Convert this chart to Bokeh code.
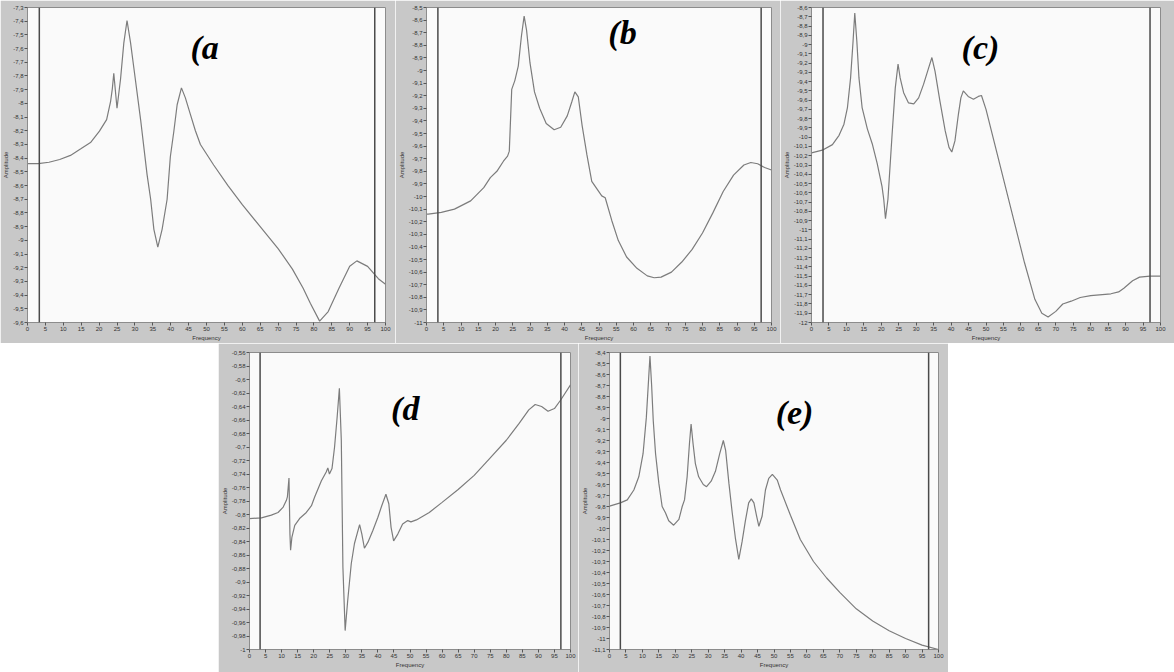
from bokeh.plotting import figure
from bokeh.layouts import column, row
from bokeh.models import FixedTicker, Span, Label, Spacer, Range1d
from bokeh.embed import file_html
from bokeh.resources import INLINE

# ---- shared frequency axis -------------------------------------------------
freq_ticks = list(range(0, 101, 5))
cursor_positions = [3.3, 97.0]

# ---- panel (a) --------------------------------------------------------------
a_freq = [0, 3, 6, 9, 12, 15, 17.6, 20.1, 22.1, 23.2, 23.7, 24.1, 25.0, 26.0,
          26.9, 27.8, 28.8, 29.7, 31.6, 33.4, 34.4, 35.3, 36.4, 37.6, 39.0,
          39.9, 40.9, 41.8, 43.0, 44.1, 45.5, 46.9, 48.3, 52, 56, 60, 65, 70,
          74, 77, 79, 81.6, 84, 87, 90, 92, 95, 98, 100]
a_amp = [-8.44, -8.44, -8.43, -8.41, -8.38, -8.33, -8.286, -8.203, -8.119,
         -7.988, -7.892, -7.780, -8.036, -7.82, -7.56, -7.395, -7.56, -7.74,
         -8.12, -8.52, -8.70, -8.92, -9.05, -8.92, -8.70, -8.39, -8.20, -8.01,
         -7.887, -7.96, -8.08, -8.20, -8.30, -8.45, -8.60, -8.74, -8.90, -9.06,
         -9.21, -9.35, -9.46, -9.59, -9.52, -9.35, -9.19, -9.15, -9.19, -9.28,
         -9.32]
a_yticks = [round(-7.3 - 0.1 * i, 2) for i in range(24)]

# ---- panel (b) --------------------------------------------------------------
b_freq = [0, 0.5, 4.3, 8.1, 12.8, 16.6, 18.5, 20.4, 22.3, 23.5, 24.0, 24.7,
          25.6, 26.6, 27.5, 28.3, 29.0, 30.0, 31.3, 32.8, 34.7, 37.0, 38.9,
          40.8, 42.1, 43.0, 44.0, 45.1, 46.5, 47.9, 49.4, 50.8, 51.8, 53.7, 55.6,
          58, 61, 64, 66, 68, 71, 74, 77, 80, 83, 86, 89, 92, 94, 96, 98, 100]
b_amp = [-10.14, -10.14, -10.126, -10.10, -10.035, -9.93, -9.85, -9.80, -9.72,
         -9.68, -9.64, -9.15, -9.08, -8.965, -8.73, -8.568, -8.68, -8.94, -9.17,
         -9.30, -9.42, -9.47, -9.45, -9.36, -9.25, -9.17, -9.21, -9.435, -9.67,
         -9.88, -9.94, -9.995, -10.01, -10.19, -10.35, -10.48, -10.57, -10.63,
         -10.645, -10.64, -10.60, -10.52, -10.42, -10.29, -10.13, -9.96, -9.83,
         -9.75, -9.73, -9.74, -9.77, -9.79]
b_yticks = [round(-8.5 - 0.1 * i, 2) for i in range(26)]

# ---- panel (c) --------------------------------------------------------------
c_freq = [0, 3.1, 6.0, 7.9, 9.3, 10.3, 11.2, 11.9, 12.4, 13.0, 13.6, 14.5,
          16.0, 17.4, 18.8, 20.2, 20.7, 21.2, 21.9, 23.1, 24.0, 24.8, 25.4,
          26.4, 27.8, 29.3, 30.7, 32.1, 33.5, 34.5, 35.4, 36.8, 38.3, 39.4,
          40.2, 41.1, 42.1, 42.8, 43.5, 44.9, 46.4, 47.8, 48.7, 50, 52, 55, 58,
          61, 64, 66, 67.8, 70, 72, 74.4, 77, 80, 85.8, 88, 89.5, 92, 94, 97,
          100]
c_amp = [-10.17, -10.14, -10.08, -9.98, -9.86, -9.68, -9.36, -8.97, -8.66,
         -8.97, -9.36, -9.68, -9.91, -10.07, -10.28, -10.53, -10.67, -10.88,
         -10.67, -9.965, -9.47, -9.21, -9.36, -9.52, -9.63, -9.64, -9.575,
         -9.43, -9.26, -9.14, -9.29, -9.61, -9.93, -10.11, -10.16, -10.04,
         -9.75, -9.575, -9.50, -9.56, -9.59, -9.56, -9.55, -9.70, -10.00,
         -10.45, -10.90, -11.35, -11.75, -11.90, -11.94, -11.88, -11.80, -11.77,
         -11.73, -11.71, -11.69, -11.67, -11.63, -11.55, -11.51, -11.50, -11.50]
c_yticks = [round(-8.6 - 0.1 * i, 2) for i in range(35)]

# ---- panel (d) --------------------------------------------------------------
d_freq = [0, 3.7, 6.8, 8.9, 10.5, 11.5, 11.8, 12.3, 12.6, 12.8, 13.2, 14.1,
          15.6, 17.7, 19.3, 20.3, 22.4, 23.9, 24.4, 24.9, 25.7, 26.5, 27.3,
          28.0, 28.6, 29.1, 29.8, 30.6, 31.7, 32.7, 34.3, 35.0, 35.8, 36.9,
          38.4, 40.0, 41.2, 42.5, 43.4, 44.1, 44.9, 46.2, 47.7, 49.3, 50.3, 52,
          56, 60, 65, 70, 75, 80, 84, 87, 89, 91, 93, 95, 97, 100]
d_amp = [-0.806, -0.805, -0.801, -0.797, -0.789, -0.779, -0.774, -0.746,
         -0.829, -0.853, -0.834, -0.816, -0.806, -0.797, -0.787, -0.774,
         -0.750, -0.737, -0.731, -0.740, -0.732, -0.700, -0.656, -0.613,
         -0.690, -0.878, -0.972, -0.927, -0.873, -0.843, -0.815, -0.829,
         -0.850, -0.841, -0.824, -0.804, -0.787, -0.770, -0.784, -0.819,
         -0.839, -0.829, -0.814, -0.809, -0.811, -0.808, -0.797, -0.782,
         -0.763, -0.742, -0.716, -0.690, -0.665, -0.645, -0.637, -0.640,
         -0.647, -0.643, -0.630, -0.608]
d_yticks = [round(-0.56 - 0.02 * i, 2) for i in range(23)]

# ---- panel (e) --------------------------------------------------------------
e_freq = [0, 3.3, 5.4, 7.4, 8.9, 10.2, 11.2, 11.9, 12.3, 12.8, 13.3, 14.0,
          15.0, 16.0, 17.0, 18.0, 19.5, 21.1, 22.1, 22.8, 23.6, 24.3, 24.8,
          25.4, 26.1, 27.1, 28.5, 29.5, 30.9, 32.2, 33.5, 34.6, 35.3, 36.3,
          37.3, 38.3, 39.3, 40.3, 41.3, 42.3, 43.1, 43.9, 44.7, 45.4, 46.4,
          47.4, 48.4, 49.5, 51.0, 52.0, 55, 58, 62, 66, 70, 75, 80, 85, 90, 95,
          100]
e_amp = [-9.797, -9.767, -9.74, -9.65, -9.53, -9.32, -8.99, -8.635, -8.433,
         -8.695, -9.02, -9.32, -9.59, -9.80, -9.857, -9.93, -9.97, -9.917,
         -9.80, -9.74, -9.53, -9.23, -9.05, -9.23, -9.41, -9.53, -9.60, -9.62,
         -9.57, -9.48, -9.32, -9.20, -9.29, -9.59, -9.857, -10.095, -10.28,
         -10.12, -9.93, -9.767, -9.73, -9.767, -9.886, -9.98, -9.886, -9.65,
         -9.544, -9.508, -9.56, -9.65, -9.88, -10.10, -10.30, -10.45, -10.58,
         -10.73, -10.84, -10.93, -11.00, -11.06, -11.10]
e_yticks = [round(-8.4 - 0.1 * i, 2) for i in range(28)]


def comma_label(v):
    """LabVIEW-style tick text: decimal comma, trailing zeros dropped."""
    s = f"{v:.2f}".rstrip("0").rstrip(".")
    return s.replace(".", ",")


FRAME_GRAY = "#c8c8c8"
PLOT_BG = "#fafafa"
TRACE = "#7c7c7c"
CURSOR = "#4a4a4a"


def make_panel(freq, amp, yticks, width, height, borders, tag, tag_pos):
    left, right, top, bottom = borders
    p = figure(width=width, height=height,
               x_range=Range1d(0, 100),
               y_range=Range1d(yticks[-1], yticks[0]),
               output_backend="svg", toolbar_location=None,
               min_border_left=left, min_border_right=right,
               min_border_top=top, min_border_bottom=bottom)
    p.background_fill_color = PLOT_BG
    p.border_fill_color = FRAME_GRAY
    p.outline_line_color = "#8c8c8c"
    p.grid.visible = False

    p.xaxis.ticker = FixedTicker(ticks=freq_ticks)
    p.yaxis.ticker = FixedTicker(ticks=yticks)
    p.yaxis.major_label_overrides = {t: comma_label(t) for t in yticks}
    p.xaxis.axis_label = "Frequency"
    p.yaxis.axis_label = "Amplitude"
    for ax in (p.xaxis[0], p.yaxis[0]):
        ax.major_label_text_font = "Liberation Sans"
        ax.major_label_text_font_size = "6px"
        ax.major_label_text_color = "#333333"
        ax.axis_label_text_font = "Liberation Sans"
        ax.axis_label_text_font_size = "6px"
        ax.axis_label_text_font_style = "normal"
        ax.axis_label_text_color = "#333333"
        ax.axis_label_standoff = 1
        ax.major_label_standoff = 1
        ax.major_tick_out = 3
        ax.major_tick_in = 0
        ax.minor_tick_out = 0
        ax.minor_tick_in = 0
        ax.axis_line_color = "#8c8c8c"
        ax.major_tick_line_color = "#555555"

    for c in cursor_positions:
        p.add_layout(Span(location=c, dimension="height",
                          line_color=CURSOR, line_width=1.5))

    p.line(freq, amp, line_color=TRACE, line_width=1.2)

    p.add_layout(Label(x=tag_pos[0], y=tag_pos[1], text=tag,
                       text_font="Liberation Serif", text_font_style="bold italic",
                       text_font_size="34px", text_color="#000000",
                       text_baseline="middle", text_align="left"))
    return p


pa = make_panel(a_freq, a_amp, a_yticks, 395, 343, (27, 10, 4, 18), "(a", (45.5, -7.59))
pb = make_panel(b_freq, b_amp, b_yticks, 385, 343, (25, 9, 7, 17), "(b", (52.7, -8.70))
pc = make_panel(c_freq, c_amp, c_yticks, 394, 343, (29, 14, 5, 18), "(c)", (43.0, -9.03))
pd = make_panel(d_freq, d_amp, d_yticks, 360, 329, (30, 8, 9, 23), "(d", (44.1, -0.643))
pe = make_panel(e_freq, e_amp, e_yticks, 370, 329, (31, 10, 4, 23), "(e)", (50.5, -8.945))

layout = column(row(pa, pb, pc),
                row(Spacer(width=218, height=329), pd, pe))

with open("out.html", "w") as fh:
    fh.write(file_html(layout, INLINE))
